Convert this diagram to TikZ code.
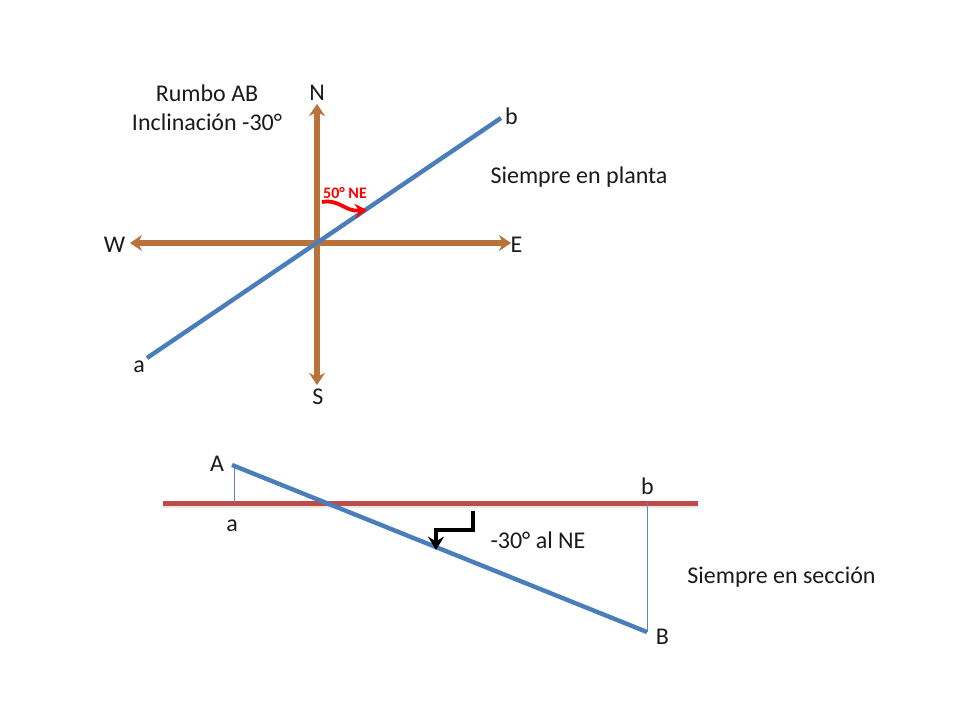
\documentclass[tikz,border=0pt]{standalone}
\usepackage{fontspec}
\setmainfont{Carlito}
\usetikzlibrary{arrows.meta}
\definecolor{brownline}{HTML}{B8723A}
\definecolor{blueline}{HTML}{4A7EBB}
\definecolor{redline}{HTML}{BE4B48}
\definecolor{thinblue}{HTML}{5B8BC4}
\definecolor{txt}{HTML}{1A1A1A}
\definecolor{shadowgrey}{HTML}{E8E8E8}
\tikzset{
  axisline/.style={draw=brownline,line width=3.8pt,{Stealth[length=9pt,width=12pt,inset=3pt]}-{Stealth[length=9pt,width=12pt,inset=3pt]}},
  planeline/.style={draw=blueline,line width=3.3pt},
  thinline/.style={draw=thinblue,line width=0.7pt},
  horizonline/.style={draw=redline,line width=3.3pt},
  horizonshadow/.style={draw=shadowgrey,line width=3.3pt},
  lbl/.style={font=\fontsize{18}{22}\selectfont,text=txt,inner sep=0pt,align=center},
}
\begin{document}
\begin{tikzpicture}[x=0.75pt,y=-0.75pt]
\useasboundingbox (0,0) rectangle (960,720);
% named points
\coordinate (nTop) at (317,104);
\coordinate (sBot) at (317,385);
\coordinate (wEnd) at (130,243);
\coordinate (eEnd) at (511,243);
\coordinate (pa) at (147,358);
\coordinate (pb) at (501,118);
\coordinate (hL) at (163,503.5);
\coordinate (hR) at (698,503.5);
\coordinate (hLs) at (163,505.5);
\coordinate (hRs) at (698,505.5);
\coordinate (sA) at (232,465);
\coordinate (sB) at (647,632);
\coordinate (fa) at (234,503);
\coordinate (fA) at (234,466);
\coordinate (fb) at (647,503);
\coordinate (fB) at (647,632);
\coordinate (d1) at (473,511);
\coordinate (d2) at (473,530);
\coordinate (d3) at (436,530);
\coordinate (d4) at (436,550);
\coordinate (r1) at (322,202);
\coordinate (r2) at (367,210);
% section
\draw[horizonshadow] (hLs) -- (hRs);
\draw[horizonline] (hL) -- (hR);
\draw[thinline] (fA) -- (fa);
\draw[thinline] (fb) -- (fB);
\draw[planeline] (sA) -- (sB);
% plan
\draw[axisline] (wEnd) -- (eEnd);
\draw[axisline] (sBot) -- (nTop);
\draw[planeline] (pa) -- (pb);
% red arrow
\draw[draw=red,line width=2.8pt,-{Stealth[length=9pt,width=11pt,inset=3pt]}] (r1) .. controls (340,199) and (345,212) .. (r2);
% dip symbol
\draw[draw=black,line width=3pt,-{Stealth[length=10pt,width=12pt,inset=3.5pt]}] (d1) -- (d2) -- (d3) -- (d4);
% labels
\node[lbl] (rumbo) at (207,93.5) {Rumbo AB};
\node[lbl] (incl) at (207,122) {Inclinación -30°};
\node[lbl] (N) at (317,93) {N};
\node[lbl] (S) at (318,397) {S};
\node[lbl] (W) at (114.5,245) {W};
\node[lbl] (E) at (516.5,245) {E};
\node[lbl] (lb) at (511.5,116) {b};
\node[lbl] (la) at (139,367) {a};
\node[lbl] (planta) at (579,177.5) {Siempre en planta};
\node[font=\fontsize{12}{14}\selectfont\bfseries,text=red,inner sep=0pt] (ang) at (345,193.5) {50° NE};
\node[lbl] (A) at (217,464) {A};
\node[lbl] (a2) at (232,526) {a};
\node[lbl] (b2) at (647.5,486) {b};
\node[lbl] (B) at (662.5,637) {B};
\node[lbl] (dip) at (538,540) {-30° al NE};
\node[lbl] (seccion) at (781.5,577.5) {Siempre en sección};
\end{tikzpicture}
\end{document}
